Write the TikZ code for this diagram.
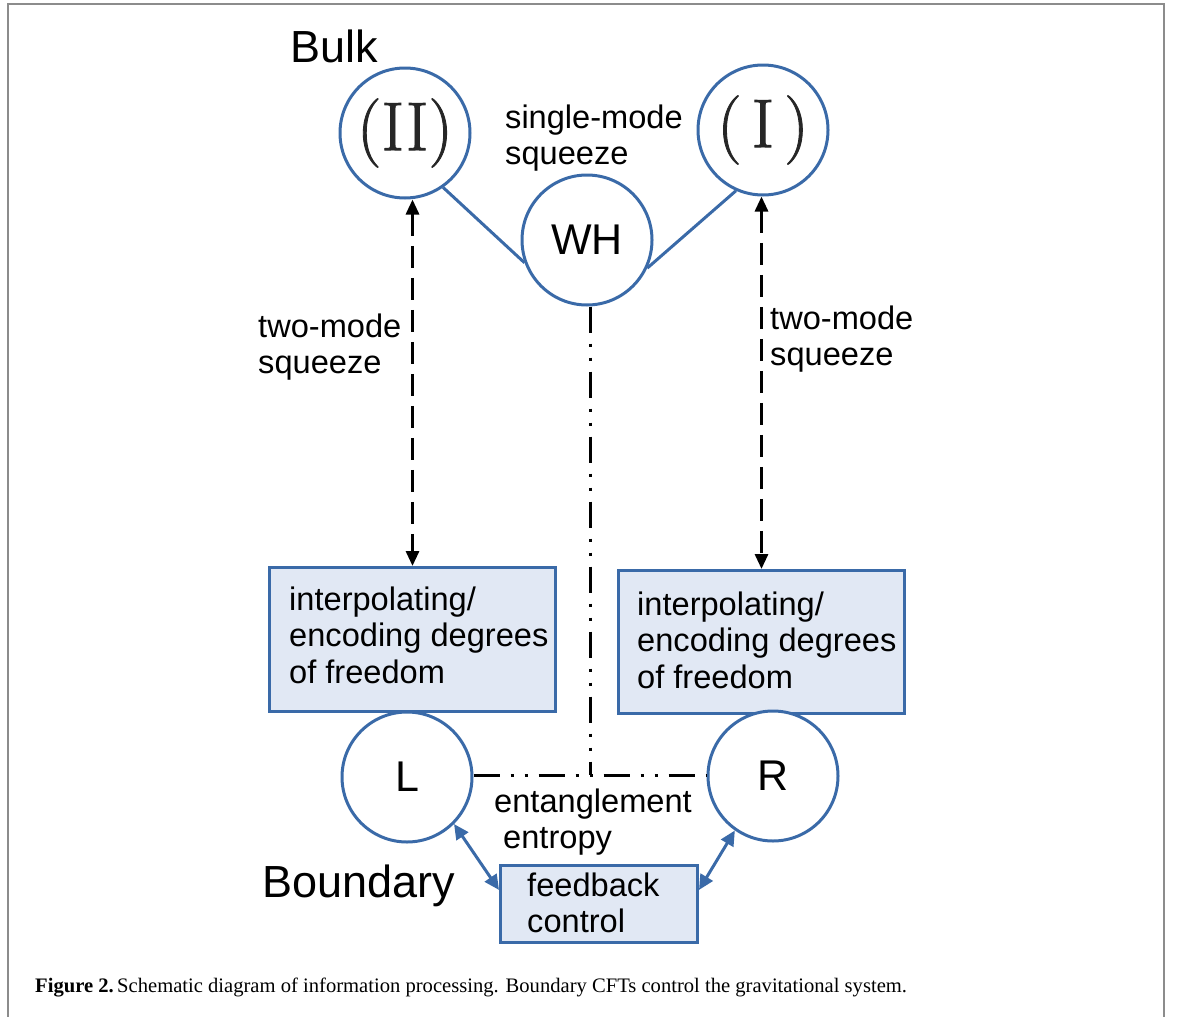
\documentclass[tikz,border=0pt]{standalone}
\usepackage{fontspec}
\newfontfamily\arialf{Liberation Sans}
\newfontfamily\capf{Liberation Serif}
\newfontfamily\romf[FakeBold=1.2]{Latin Modern Roman}
\usetikzlibrary{arrows.meta}
\definecolor{bblue}{HTML}{3A6AA8}
\definecolor{bfill}{HTML}{E1E8F4}
\definecolor{frame}{HTML}{8C8C8C}
\tikzset{
  circ/.style={circle, draw=bblue, line width=3pt, fill=white, minimum size=130pt, inner sep=0pt},
  bbox/.style={rectangle, draw=bblue, line width=3pt, fill=bfill, inner sep=0pt},
  lbl/.style={font=\arialf\fontsize{32.6}{36.5}\selectfont, align=left, inner sep=0pt, anchor=west},
  big/.style={font=\arialf\fontsize{45}{50}\selectfont, inner sep=0pt, anchor=base west},
  roman/.style={font=\romf\fontsize{69}{69}\selectfont, text=black!85},
  darr/.style={line width=3pt, dash pattern=on 22pt off 10pt, {Triangle[length=15pt,width=13pt]}-{Triangle[length=15pt,width=13pt]}},
  barr/.style={line width=3pt, draw=bblue, {Triangle[length=15pt,width=14pt]}-{Triangle[length=15pt,width=14pt]}},
  ddot/.style={line width=3pt, dash pattern=on 26pt off 11pt on 3pt off 11pt on 3pt off 11pt},
  wline/.style={line width=3pt, draw=bblue}
}
\begin{document}
\begin{tikzpicture}[x=1pt, y={(0pt,-1pt)}]
\useasboundingbox (0,0) rectangle (1181,1017);
% frame
\draw[frame, line width=2pt] (8,1017) -- (8,4) -- (1164,4) -- (1164,1017);

% bulk circles
\node[circ, roman] (II) at (405,133) {(II)};
\node[circ, roman] (I) at (763,130) {(\hspace{10pt}I\hspace{10pt})};
\node[circ, font=\arialf\fontsize{43}{43}\selectfont] (WH) at (587,240) {WH};
\node[big] (bulk) at (290,62) {Bulk};
\node[lbl] (smsq) at (505,138) {single-mode\\squeeze};

\draw[wline] (II.305) -- (WH.200);
\draw[wline] (I.246) -- (WH.335);

% boxes
\node[bbox, anchor=north west, minimum width=286pt, minimum height=144pt] (bl) at (268,566) {};
\node[bbox, anchor=north west, minimum width=286pt, minimum height=143pt] (br) at (617,569) {};
\node[lbl] (tl) at (289,635) {interpolating/\\encoding degrees\\of freedom};
\node[lbl] (tr) at (637,640) {interpolating/\\encoding degrees\\of freedom};

% two-mode arrows
\draw[darr] (bl.north |- II.south) -- (bl.north);
\draw[darr] (br.north |- I.south) -- (br.north);
\node[lbl] (tml) at (258,347) {two-mode\\squeeze};
\node[lbl] (tmr) at (770,339) {two-mode\\squeeze};

% boundary circles
\node[circ, font=\arialf\fontsize{43}{43}\selectfont] (L) at (407,777) {L};
\node[circ, font=\arialf\fontsize{43}{43}\selectfont] (R) at (773,776) {R};
\node[big] (bdy) at (262,897) {Boundary};

% entanglement lines
\coordinate (ej) at (590,775);
\draw[ddot] (WH.south -| ej) -- (ej);
\draw[ddot] (L.east |- ej) -- (R.west |- ej);
\node[lbl] (ent) at (494,822) {entanglement\\\hspace{9pt}entropy};

% feedback control
\node[bbox, anchor=north west, minimum width=197pt, minimum height=77pt] (fb) at (499,864) {};
\node[lbl] (fbt) at (527,903) {feedback\\control};
\draw[barr] (L.315) -- (fb.172);
\draw[barr] (fb.8) -- (R.235);

% caption
\node[font=\capf\fontsize{20.6}{20.6}\selectfont, anchor=base west, inner sep=0pt] (cap) at (35,992)
  {\textbf{Figure 2.}\,Schematic diagram of information processing. Boundary CFTs control the gravitational system.};
\end{tikzpicture}
\end{document}
